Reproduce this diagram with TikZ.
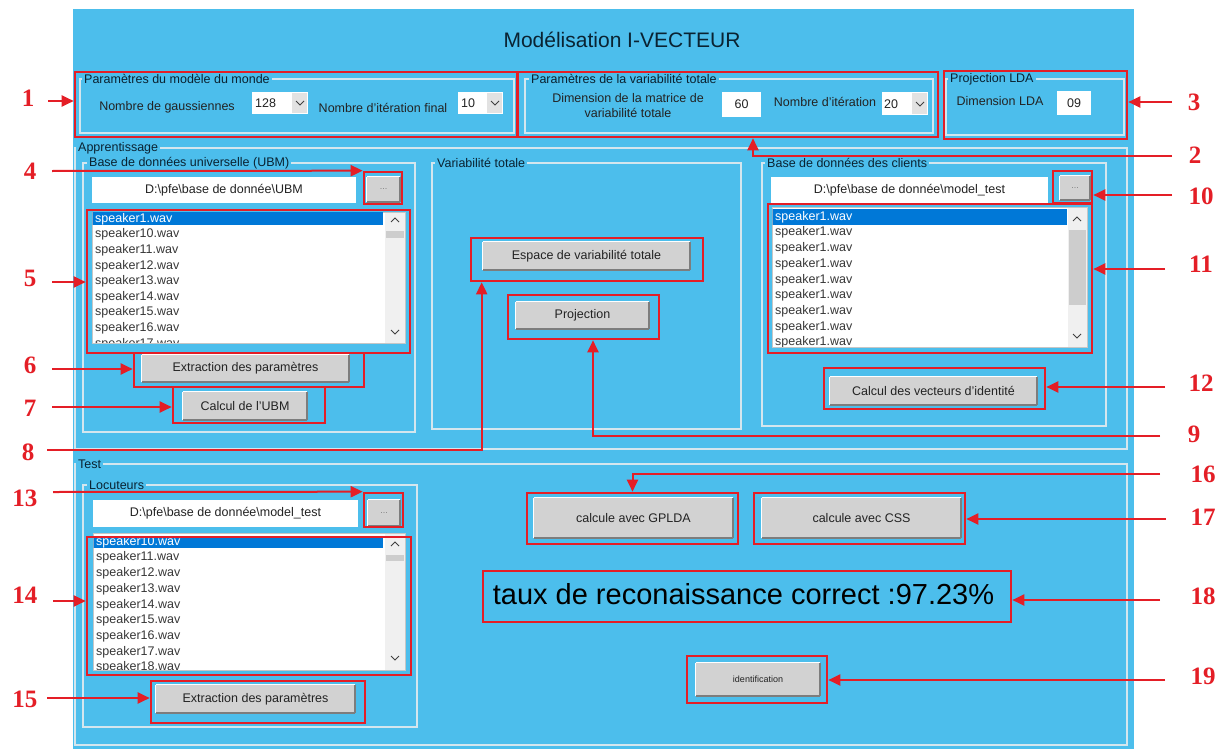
\documentclass[tikz,border=0pt]{standalone}
\usepackage{fontspec}
\setmainfont{Liberation Sans}
\newfontfamily\numfont{Liberation Serif}
\usetikzlibrary{fit,calc,arrows.meta}
\definecolor{bgblue}{RGB}{76,190,236}
\definecolor{framec}{RGB}{212,230,238}
\definecolor{redc}{RGB}{228,30,38}
\definecolor{btngray}{RGB}{210,210,210}
\definecolor{btndark}{RGB}{125,125,125}
\definecolor{guitext}{RGB}{35,35,35}
\definecolor{titletext}{RGB}{10,35,50}
\definecolor{selblue}{RGB}{0,120,215}
\definecolor{scrollbg}{RGB}{240,240,240}
\definecolor{thumbc}{RGB}{205,205,205}
\definecolor{listtext}{RGB}{55,55,55}
\definecolor{combog}{RGB}{226,226,226}
\newcommand\gf{\fontsize{12.5}{15}\selectfont}
\newcommand\mychevdown[2]{\draw[chev] (#1-4,#2-2) -- (#1,#2+2) -- (#1+4,#2-2);}
\newcommand\mychevup[2]{\draw[chev] (#1-4,#2+2) -- (#1,#2-2) -- (#1+4,#2+2);}
\begin{document}
\begin{tikzpicture}[x=1pt,y=-1pt,
  frame/.style={draw=framec, line width=1.6pt},
  gtitle/.style={fill=bgblue, inner xsep=2pt, inner ysep=1pt, anchor=west, font=\gf, text=titletext},
  gtext/.style={font=\gf, text=guitext, inner sep=0pt},
  redbox/.style={draw=redc, line width=2.6pt, inner sep=0pt},
  arr/.style={draw=redc, line width=2pt, -{Triangle[length=12pt,width=11pt]}},
  num/.style={font=\numfont\bfseries\fontsize{25}{25}\selectfont, text=redc, inner sep=0pt},
  edit/.style={fill=white, inner sep=0pt},
  lbox/.style={fill=white, draw=gray!45, line width=0.8pt, inner sep=0pt},
  listrow/.style={anchor=west, font=\gf, text=listtext, inner sep=0pt},
  chev/.style={draw=black!75, line width=1pt},
  dots/.style={font=\fontsize{9}{10}\selectfont, text=gray, inner sep=0pt},
  btn/.style={fill=btngray, inner sep=0pt,
    append after command={
      (\tikzlastnode.south west) edge[draw=white, line width=1.2pt] (\tikzlastnode.north west)
      (\tikzlastnode.north west) edge[draw=white, line width=1.2pt] (\tikzlastnode.north east)
      (\tikzlastnode.north east) edge[draw=btndark, line width=1.5pt] (\tikzlastnode.south east)
      (\tikzlastnode.south east) edge[draw=btndark, line width=1.5pt] (\tikzlastnode.south west)}}
]
\useasboundingbox (0,0) rectangle (1222,749);
\fill[white] (0,0) rectangle (1222,749);
\fill[bgblue] (73,9) rectangle (1134,749);
\node[font=\fontsize{21}{25}\selectfont, text=titletext] (title) at (622,40) {Modélisation I-VECTEUR};

% group frames
\draw[frame] (80,79) rectangle (514,133);
\node[gtitle] (t1) at (82,79) {Paramètres du modèle du monde};
\draw[frame] (525,79) rectangle (933,133);
\node[gtitle] (t2) at (529,79) {Paramètres de la variabilité totale};
\draw[frame] (946,79) rectangle (1124,135);
\node[gtitle] (t3) at (948,79) {Projection LDA};
\draw[frame] (75,148) rectangle (1127,449);
\node[gtitle] (tA) at (76,148) {Apprentissage};
\draw[frame] (83,163) rectangle (415,432);
\node[gtitle] (tU) at (87,163) {Base de données universelle (UBM)};
\draw[frame] (432,163) rectangle (741,429);
\node[gtitle] (tV) at (435,163) {Variabilité totale};
\draw[frame] (762,163) rectangle (1106,426);
\node[gtitle] (tC) at (765,163) {Base de données des clients};
\draw[frame] (75,464) rectangle (1127,745);
\node[gtitle] (tT) at (76,464) {Test};
\draw[frame] (83,485) rectangle (417,727);
\node[gtitle] (tL) at (87,485) {Locuteurs};

% parameters row
\node[gtext] (l1) at (167,107) {Nombre de gaussiennes};
\node[edit, fit={(252,92) (308,114)}] (cb1) {};
\fill[combog] (292,93) rectangle (307,113);
\mychevdown{300}{103}
\node[gtext, anchor=west] (cb1t) at (255,103) {128};
\node[gtext] (l2) at (383,108) {Nombre d'itération final};
\node[edit, fit={(458,92) (503,114)}] (cb2) {};
\fill[combog] (487,93) rectangle (502,113);
\mychevdown{495}{103}
\node[gtext, anchor=west] (cb2t) at (461,103) {10};
\node[gtext, align=center] (l3) at (628,106) {Dimension de la matrice de\\variabilité totale};
\node[edit, fit={(722,92) (761,117)}] (e60) {};
\node[gtext] (e60t) at (e60.center) {60};
\node[gtext] (l4) at (825,102) {Nombre d'itération};
\node[edit, fit={(882,92) (928,115)}] (cb3) {};
\fill[combog] (912,93) rectangle (927,114);
\mychevdown{920}{104}
\node[gtext, anchor=west] (cb3t) at (884,104) {20};
\node[gtext] (l5) at (1000,101) {Dimension LDA};
\node[edit, fit={(1057,91) (1091,115)}] (e09) {};
\node[gtext] (e09t) at (e09.center) {09};

% UBM
\node[edit, fit={(92,177) (356,203)}] (pU) {};
\node[gtext] (pUt) at (pU.center) {D:\textbackslash pfe\textbackslash base de donnée\textbackslash UBM};
\node[btn, fit={(367,177) (400,202)}] (dU) {};
\node[dots] (dUt) at (dU.center) {...};
\node[lbox, fit={(92,212) (405,343)}] (lU) {};
\begin{scope}
  \clip (92.5,212.5) rectangle (385,342.5);
  \fill[selblue] (92,212) rectangle (383,225);
  \node[listrow, text=white] (u1) at (95,219) {speaker1.wav};
  \foreach \n [count=\i from 2] in {10,11,12,13,14,15,16,17}
    \node[listrow] (u\i) at (95,{219+(\i-1)*15.6}) {speaker\n.wav};
\end{scope}
\fill[scrollbg] (385,213) rectangle (404.5,342.5);
\fill[thumbc] (386,231) rectangle (404,238);
\mychevup{395}{220}
\mychevdown{395}{332}
\node[btn, fit={(142,355) (349,382)}] (bE1) {};
\node[gtext] (bE1t) at (bE1.center) {Extraction des paramètres};
\node[btn, fit={(183,392) (307,420)}] (bC) {};
\node[gtext] (bCt) at (bC.center) {Calcul de l'UBM};

% variabilite totale
\node[btn, fit={(483,242) (690,270)}] (bEsp) {};
\node[gtext] (bEspt) at (bEsp.center) {Espace de variabilité totale};
\node[btn, fit={(516,302) (649,329)}] (bProj) {};
\node[gtext] (bProjt) at (bProj.center) {Projection};

% clients
\node[edit, fit={(771,177) (1048,203)}] (pC) {};
\node[gtext] (pCt) at (pC.center) {D:\textbackslash pfe\textbackslash base de donnée\textbackslash model\_test};
\node[btn, fit={(1060,176) (1090,200)}] (dC) {};
\node[dots] (dCt) at (dC.center) {...};
\node[lbox, fit={(772,207) (1087,347)}] (lC) {};
\begin{scope}
  \clip (772.5,207.5) rectangle (1068,346.5);
  \fill[selblue] (772,209) rectangle (1067,225);
  \node[listrow, text=white] (c1) at (775,217) {speaker1.wav};
  \foreach \i in {2,...,9}
    \node[listrow] (c\i) at (775,{217+(\i-1)*15.7}) {speaker1.wav};
\end{scope}
\fill[scrollbg] (1068,208) rectangle (1086.5,346.5);
\fill[thumbc] (1069,230) rectangle (1086,305);
\mychevup{1077}{219}
\mychevdown{1077}{336}
\node[btn, fit={(830,377) (1037,405)}] (bVec) {};
\node[gtext] (bVect) at (bVec.center) {Calcul des vecteurs d'identité};

% locuteurs
\node[edit, fit={(93,500) (358,527)}] (pL) {};
\node[gtext] (pLt) at (pL.center) {D:\textbackslash pfe\textbackslash base de donnée\textbackslash model\_test};
\node[btn, fit={(368,500) (400,526)}] (dL) {};
\node[dots] (dLt) at (dL.center) {...};
\node[lbox, fit={(93,533) (405,670)}] (lL) {};
\begin{scope}
  \clip (93.5,533.5) rectangle (385,669.5);
  \fill[selblue] (93,536) rectangle (383,548);
  \node[listrow, text=white] (k1) at (96,542) {speaker10.wav};
  \foreach \n [count=\i from 2] in {11,12,13,14,15,16,17,18}
    \node[listrow] (k\i) at (96,{542+(\i-1)*15.7}) {speaker\n.wav};
\end{scope}
\fill[scrollbg] (385,534) rectangle (404.5,669.5);
\fill[thumbc] (386,555) rectangle (404,561);
\mychevup{395}{544}
\mychevdown{395}{658}
\node[btn, fit={(156,685) (355,713)}] (bE2) {};
\node[gtext] (bE2t) at (bE2.center) {Extraction des paramètres};

% test right
\node[btn, fit={(534,498) (733,538)}] (bG) {};
\node[gtext] (bGt) at (bG.center) {calcule avec GPLDA};
\node[btn, fit={(762,498) (961,538)}] (bS) {};
\node[gtext] (bSt) at (bS.center) {calcule avec CSS};
\node[font=\fontsize{29}{33}\selectfont, text=black, inner sep=0pt] (rate) at (743.5,594) {taux de reconaissance correct :97.23\%};
\node[btn, fit={(696,663) (820,696)}] (bId) {};
\node[gtext, font=\fontsize{9}{10}\selectfont] (bIdt) at (bId.center) {identification};

% red boxes
\node[redbox, fit={(75,72) (517,137)}] (r1) {};
\node[redbox, fit={(518,72) (938,137)}] (r2) {};
\node[redbox, fit={(944,71) (1127,139)}] (r3) {};
\node[redbox, fit={(364,172) (402,204)}] (r4) {};
\node[redbox, fit={(87,210) (410,353)}] (r5) {};
\node[redbox, fit={(134,353) (364,387)}] (r6) {};
\node[redbox, fit={(173,387) (325,423)}] (r7) {};
\node[redbox, fit={(471,238) (703,281)}] (r8) {};
\node[redbox, fit={(508,295) (659,339)}] (r9) {};
\node[redbox, fit={(1053,171) (1092,203)}] (r10) {};
\node[redbox, fit={(768,204) (1092,353)}] (r11) {};
\node[redbox, fit={(824,368) (1045,409)}] (r12) {};
\node[redbox, fit={(364,493) (403,527)}] (r13) {};
\node[redbox, fit={(87,537) (411,675)}] (r14) {};
\node[redbox, fit={(151,681) (365,723)}] (r15) {};
\node[redbox, fit={(527,493) (738,544)}] (r16) {};
\node[redbox, fit={(754,493) (965,544)}] (r17) {};
\node[redbox, fit={(483,571) (1011,622)}] (r18) {};
\node[redbox, fit={(687,656) (827,703)}] (r19) {};

% number labels
\node[num] (n1) at (28,98) {1};
\node[num] (n2) at (1195,155) {2};
\node[num] (n3) at (1194,102) {3};
\node[num] (n4) at (30,171) {4};
\node[num] (n5) at (30,278) {5};
\node[num] (n6) at (30,365) {6};
\node[num] (n7) at (30,408) {7};
\node[num] (n8) at (28,452) {8};
\node[num] (n9) at (1194,434) {9};
\node[num] (n10) at (1201,196) {10};
\node[num] (n11) at (1201,264) {11};
\node[num] (n12) at (1201,383) {12};
\node[num] (n13) at (25,498) {13};
\node[num] (n14) at (25,595) {14};
\node[num] (n15) at (25,699) {15};
\node[num] (n16) at (1203,474) {16};
\node[num] (n17) at (1203,517) {17};
\node[num] (n18) at (1203,596) {18};
\node[num] (n19) at (1203,676) {19};

% arrows
\coordinate (s1) at (48,101);   \draw[arr] (s1) -- (s1 -| r1.west);
\coordinate (s4) at (52,171);   \draw[arr] (s4) -- (r4.north west);
\coordinate (s5) at (52,282);   \draw[arr] (s5) -- (s5 -| r5.west);
\coordinate (s6) at (52,369);   \draw[arr] (s6) -- (s6 -| r6.west);
\coordinate (s7) at (52,407);   \draw[arr] (s7) -- (s7 -| r7.west);
\coordinate (s8) at (47,450);   \draw[arr] (s8) -| ($(r8.south west)+(12,0)$);
\coordinate (s13) at (53,492);  \draw[arr] (s13) -- (r13.north west);
\coordinate (s14) at (53,601);  \draw[arr] (s14) -- (s14 -| r14.west);
\coordinate (s15) at (47,698);  \draw[arr] (s15) -- (s15 -| r15.west);
\coordinate (s2) at (1172,156); \draw[arr] (s2) -| ($(r2.south)+(25,0)$);
\coordinate (s3) at (1172,102); \draw[arr] (s3) -- (s3 -| r3.east);
\coordinate (s9) at (1160,436); \draw[arr] (s9) -| ($(r9.south)+(9.5,0)$);
\coordinate (s10) at (1172,195); \draw[arr] (s10) -- (s10 -| r10.east);
\coordinate (s11) at (1165,269); \draw[arr] (s11) -- (s11 -| r11.east);
\coordinate (s12) at (1165,387); \draw[arr] (s12) -- (s12 -| r12.east);
\coordinate (s16) at (1160,474); \draw[arr] (s16) -| (r16.north);
\coordinate (s17) at (1166,519); \draw[arr] (s17) -- (s17 -| r17.east);
\coordinate (s18) at (1160,600); \draw[arr] (s18) -- (s18 -| r18.east);
\coordinate (s19) at (1165,680); \draw[arr] (s19) -- (s19 -| r19.east);
\end{tikzpicture}
\end{document}
